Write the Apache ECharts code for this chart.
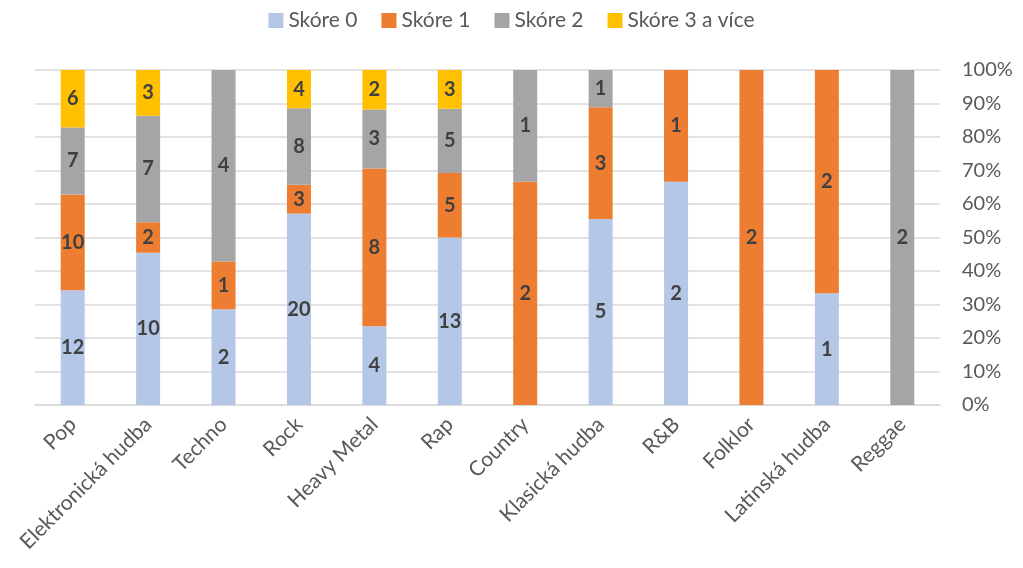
<!DOCTYPE html>
<html>
<head>
<meta charset="utf-8">
<script src="https://cdn.jsdelivr.net/npm/echarts@6/dist/echarts.min.js"></script>
<style>
  html, body { margin: 0; padding: 0; background: #fff; }
  #chart { width: 1023px; height: 568px; }
</style>
</head>
<body>
<div id="chart"></div>
<script>
// kategorie a počty
const categories = ['Pop', 'Elektronická hudba', 'Techno', 'Rock', 'Heavy Metal', 'Rap',
  'Country', 'Klasická hudba', 'R&B', 'Folklor', 'Latinská hudba', 'Reggae'];
const skore0 = [12, 10, 2, 20, 4, 13, 0, 5, 2, 0, 1, 0];
const skore1 = [10, 2, 1, 3, 8, 5, 2, 3, 1, 2, 2, 0];
const skore2 = [7, 7, 4, 8, 3, 5, 1, 1, 0, 0, 0, 2];
const skore3 = [6, 3, 0, 4, 2, 3, 0, 0, 0, 0, 0, 0];
const seriesNames = ['Skóre 0', 'Skóre 1', 'Skóre 2', 'Skóre 3 a více'];
const colors = ['#B4C7E7', '#ED7D31', '#A5A5A5', '#FFC000'];

const allSeries = [skore0, skore1, skore2, skore3];
const totals = categories.map((c, i) => allSeries.reduce((s, arr) => s + arr[i], 0));

const font = 'Lato, "Open Sans", sans-serif';

let myChart = echarts.init(document.getElementById('chart'));
myChart.setOption({
  animation: false,
  color: colors,
  legend: {
    top: 5,
    left: 'center',
    itemWidth: 15,
    itemHeight: 15,
    itemGap: 24,
    icon: 'rect',
    textStyle: { fontFamily: font, fontSize: 21, color: '#595959' },
    data: seriesNames
  },
  grid: { left: 35, right: 83, top: 70, bottom: 163 },
  xAxis: {
    type: 'category',
    data: categories,
    axisLine: { lineStyle: { color: '#d9d9d9', width: 1.5 } },
    axisTick: { show: false },
    axisLabel: {
      interval: 0,
      rotate: 45,
      margin: 16,
      fontFamily: font,
      fontSize: 21,
      color: '#595959'
    }
  },
  yAxis: {
    type: 'value',
    position: 'right',
    min: 0,
    max: 100,
    interval: 10,
    axisLine: { show: false },
    axisTick: { show: false },
    splitLine: { lineStyle: { color: '#d9d9d9', width: 1.5 } },
    axisLabel: {
      formatter: '{value}%',
      margin: 22,
      fontFamily: font,
      fontSize: 20,
      color: '#595959'
    }
  },
  series: allSeries.map((arr, k) => ({
    name: seriesNames[k],
    type: 'bar',
    stack: 'total',
    barWidth: 24,
    data: arr.map((v, i) => ({ value: v / totals[i] * 100, count: v })),
    label: {
      show: true,
      position: 'inside',
      fontFamily: font,
      fontSize: 20,
      fontWeight: 'bold',
      color: '#404040',
      formatter: p => p.data.count > 0 ? String(p.data.count) : ''
    }
  }))
});
</script>
</body>
</html>
